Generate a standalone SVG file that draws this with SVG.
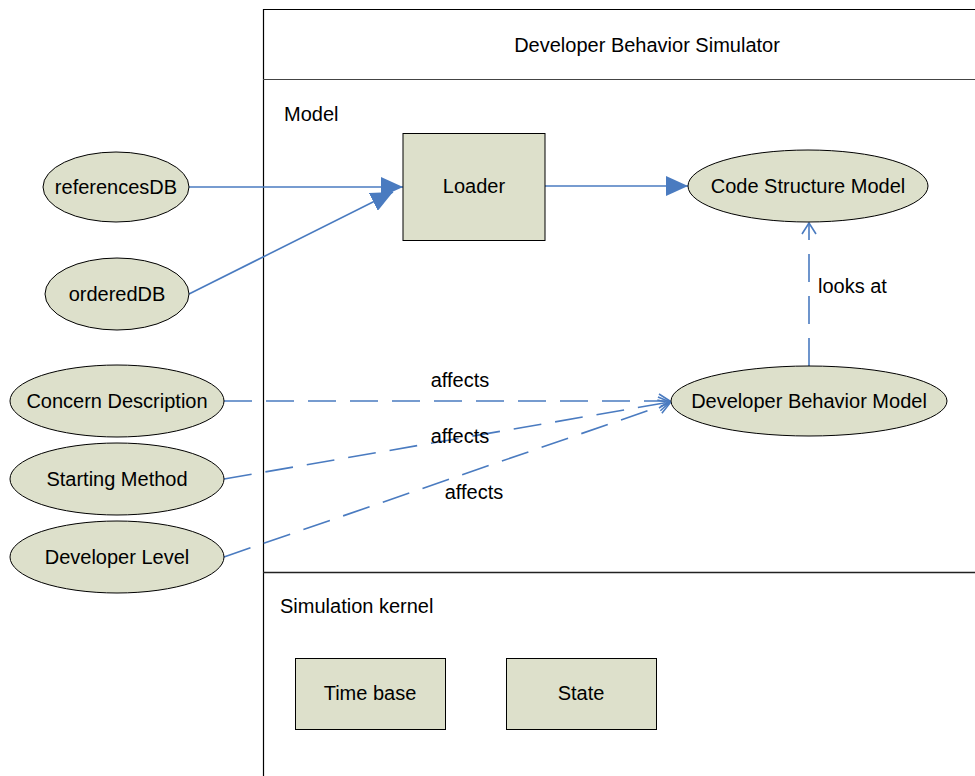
<svg xmlns="http://www.w3.org/2000/svg" width="975" height="776" viewBox="0 0 975 776">
<style>
text{font-family:"Liberation Sans",Arial,sans-serif;font-size:20px;fill:#000}
.n{fill:#dde0cb;stroke:#000;stroke-width:1}
.c{fill:none;stroke:#4a7bc0;stroke-width:1.6}
.d{stroke-dasharray:28 14}
.frame{fill:none;stroke:#000;stroke-width:1.2}
</style>
<defs>
<marker id="fa" markerWidth="24" markerHeight="20" refX="22" refY="10" orient="auto" markerUnits="userSpaceOnUse">
<path d="M0,0 L22,10 L0,20 Z" fill="#4a7bc0"/>
</marker>
<marker id="oa" markerWidth="14" markerHeight="16" refX="12" refY="8" orient="auto" markerUnits="userSpaceOnUse">
<path d="M1,1 L12,8 L1,15" fill="none" stroke="#4a7bc0" stroke-width="1.6"/>
</marker>
</defs>
<g id="frame">
<path class="frame" d="M263.5,776 L263.5,9.5 L975,9.5"/>
<line x1="263" y1="79.5" x2="975" y2="79.5" stroke="#444" stroke-width="1.2"/>
<line x1="263" y1="572.5" x2="975" y2="572.5" stroke="#222" stroke-width="1.5"/>
<text x="647" y="52" text-anchor="middle">Developer Behavior Simulator</text>
<text x="284" y="121">Model</text>
<text x="280" y="613">Simulation kernel</text>
</g>
<g id="connectors">
<line class="c" x1="189" y1="187" x2="403" y2="187" marker-end="url(#fa)"/>
<line class="c" x1="189" y1="294" x2="393" y2="192" marker-end="url(#fa)"/>
<line class="c" x1="545" y1="186" x2="688" y2="186" marker-end="url(#fa)"/>
<line class="c d" x1="809" y1="366" x2="809" y2="223" marker-end="url(#oa)"/>
<line class="c d" x1="224" y1="401" x2="670" y2="401" marker-end="url(#oa)"/>
<line class="c d" x1="224" y1="479" x2="670" y2="402" marker-end="url(#oa)"/>
<line class="c d" x1="224" y1="557" x2="670" y2="403" marker-end="url(#oa)"/>
<text x="460" y="387" text-anchor="middle">affects</text>
<text x="460" y="443" text-anchor="middle">affects</text>
<text x="474" y="499" text-anchor="middle">affects</text>
<text x="818" y="293">looks at</text>
</g>
<g id="referencesDB"><ellipse class="n" cx="116" cy="187" rx="73" ry="35"/><text x="116" y="194" text-anchor="middle">referencesDB</text></g>
<g id="orderedDB"><ellipse class="n" cx="117" cy="294" rx="72" ry="36"/><text x="117" y="301" text-anchor="middle">orderedDB</text></g>
<g id="concernDescription"><ellipse class="n" cx="117" cy="401" rx="107" ry="36"/><text x="117" y="408" text-anchor="middle">Concern Description</text></g>
<g id="startingMethod"><ellipse class="n" cx="117" cy="479" rx="107" ry="36"/><text x="117" y="486" text-anchor="middle">Starting Method</text></g>
<g id="developerLevel"><ellipse class="n" cx="117" cy="557" rx="107" ry="36"/><text x="117" y="564" text-anchor="middle">Developer Level</text></g>
<g id="loader"><rect class="n" x="403" y="133.5" width="142" height="107"/><text x="474" y="193" text-anchor="middle">Loader</text></g>
<g id="codeStructureModel"><ellipse class="n" cx="808" cy="186" rx="120" ry="36"/><text x="808" y="193" text-anchor="middle">Code Structure Model</text></g>
<g id="developerBehaviorModel"><ellipse class="n" cx="809" cy="401" rx="138" ry="35"/><text x="809" y="408" text-anchor="middle">Developer Behavior Model</text></g>
<g id="timeBase"><rect class="n" x="295.5" y="658.5" width="150" height="71"/><text x="370" y="700" text-anchor="middle">Time base</text></g>
<g id="state"><rect class="n" x="506.5" y="658.5" width="150" height="71"/><text x="581" y="700" text-anchor="middle">State</text></g>
</svg>
